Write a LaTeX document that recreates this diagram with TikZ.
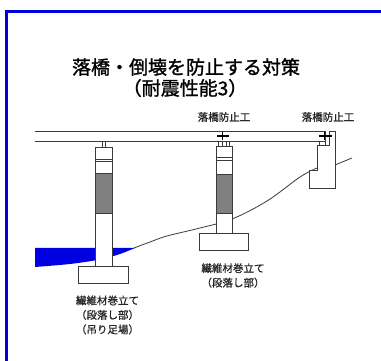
\documentclass[tikz,border=0pt]{standalone}
\usepackage{fontspec}
\newfontfamily\jptitle[FakeBold=1.3]{Noto Sans CJK JP}
\newfontfamily\jptag[FakeBold=1.0]{Noto Sans CJK JP}
\definecolor{frameblue}{HTML}{0000DD}
\definecolor{waterblue}{HTML}{0000E0}
\definecolor{linegray}{HTML}{3A3A3A}
\definecolor{bandgray}{HTML}{808080}
\begin{document}
\begin{tikzpicture}[x=1pt,y=-1pt,
  outline/.style={draw=linegray,line width=0.8pt},
  part/.style={outline,fill=white},
  band/.style={outline,fill=bandgray},
  device/.style={fill=black},
  title/.style={font=\jptitle\fontsize{19}{21}\selectfont,text=black,inner sep=0pt},
  tag/.style={font=\jptag\fontsize{10.5}{14.5}\selectfont,text=black!85,inner sep=0pt,align=center}]
\useasboundingbox (0,0) rectangle (381,361);
\fill[white] (0,0) rectangle (381,361);
% frame
\fill[frameblue] (5,10) rectangle (381,13.3);
\fill[frameblue] (5,10) rectangle (8.3,361);

% titles
\node[title] (t1) at (186,67) {落橋・倒壊を防止する対策};
\node[title] (t2) at (185,88) {（耐震性能3）};

% water and ground
\fill[waterblue] (35,248) -- (135,248)
  -- plot[smooth] coordinates {(135,248) (120,254) (100,259.5) (70,264) (35,267)} -- cycle;
\draw[outline] plot[smooth,tension=0.6] coordinates {(134,248) (150,242) (167,236) (200,228) (232,219) (267,201) (300,177) (317,168)};
\draw[outline] (335,165) -- (352,158);

% deck
\draw[outline] (35,131.5) -- (325,131.5) -- (325,141.5) -- (35,141.5);

% pier 1
\draw[part] (95,147) rectangle (112,266);
\draw[outline] (95,159) -- (112,159) (95,161.7) -- (112,161.7);
\draw[band] (95,173) rectangle (112,213.5);
\draw[part] (78,266) rectangle (128,283);
\draw[part] (102,141.5) rectangle (105.5,147);

% pier 2
\draw[part] (216.5,146.5) rectangle (232.5,233.3);
\draw[outline] (216.5,157) -- (232.5,157) (216.5,160.5) -- (232.5,160.5);
\draw[band] (216.5,174) rectangle (232.5,213.5);
\draw[part] (199.5,233.3) rectangle (248.5,250);
\draw[part] (218.5,141.5) rectangle (222,146.5);
\draw[part] (226,141.5) rectangle (229.5,146.5);
\fill[device] (217,134.8) rectangle (228.5,137.3);
\draw[black,line width=1.2pt] (222.5,132.5) -- (222.5,140);

% abutment
\draw[part] (329,131.5) -- (335,131.5) -- (335,188.5) -- (309,188.5) -- (309,170)
  -- (317,170) -- (317,145) -- (329,145) -- cycle;
\draw[part] (319,141.5) rectangle (325,145);
\fill[device] (319,134.8) rectangle (332,137.3);
\draw[black,line width=1.2pt] (324.5,132.5) -- (324.5,140);

% labels
\node[tag] (d1) at (224,117) {落橋防止工};
\node[tag] (d2) at (328,117) {落橋防止工};
\node[tag] (w1) at (107.5,315) {繊維材巻立て\\（段落し部）\\（吊り足場）};
\node[tag] (w2) at (233,275.5) {繊維材巻立て\\（段落し部）};
\end{tikzpicture}
\end{document}
